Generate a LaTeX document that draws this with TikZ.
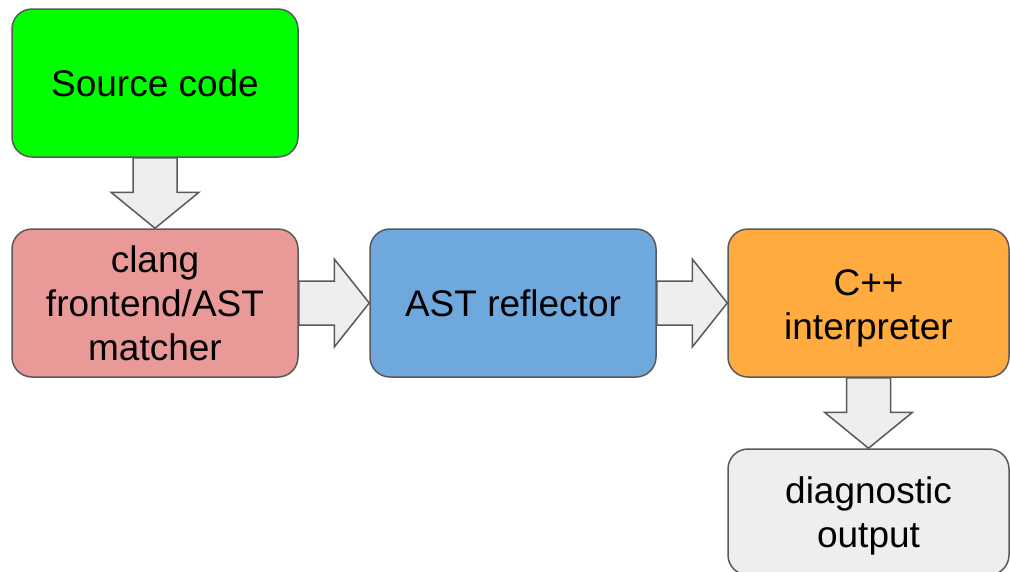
\documentclass[tikz,border=0pt]{standalone}
\usepackage{fontspec}
\setmainfont{Liberation Sans}
\usetikzlibrary{calc,backgrounds}
\definecolor{srcgreen}{HTML}{00FF00}
\definecolor{clangpink}{HTML}{EA9999}
\definecolor{astblue}{HTML}{6FA8DC}
\definecolor{cppor}{HTML}{FFAB40}
\definecolor{lightgrey}{HTML}{EEEEEE}
\definecolor{edgegrey}{HTML}{595959}
\tikzset{
  stagefont/.style={font=\fontsize{37}{44}\selectfont},
  stagebox/.style={draw=edgegrey, line width=1.5pt, rounded corners=20pt,
    minimum width=286pt, minimum height=148pt, align=center, inner sep=0pt,
    stagefont},
  % two-line caption placed a little below the geometric centre of its box
  lowtext/.style={align=center, inner sep=0pt, stagefont, anchor=center, yshift=-5pt},
  blockarrow/.style={draw=edgegrey, fill=lightgrey, line width=1.5pt, line join=miter}
}
% block arrow pointing down, between two stacked nodes
\newcommand\downblock[2]{%
  \draw[blockarrow] ($(#1.south)+(-22,0)$) -- ($(#2.north)+(-22,36)$)
    -- ($(#2.north)+(-44,36)$) -- (#2.north) -- ($(#2.north)+(44,36)$)
    -- ($(#2.north)+(22,36)$) -- ($(#1.south)+(22,0)$) -- cycle;}
% block arrow pointing right, between two nodes side by side
\newcommand\rightblock[2]{%
  \draw[blockarrow] ($(#1.east)+(0,22)$) -- ($(#2.west)+(-35,22)$)
    -- ($(#2.west)+(-35,44)$) -- (#2.west) -- ($(#2.west)+(-35,-44)$)
    -- ($(#2.west)+(-35,-22)$) -- ($(#1.east)+(0,-22)$) -- cycle;}
\begin{document}
\begin{tikzpicture}[x=1pt,y=1pt]
\useasboundingbox (0,0) rectangle (1010,-571);
\node[stagebox, fill=srcgreen] (src) at (155,-83) {Source code};
\node[stagebox, fill=clangpink] (clang) at (155,-303) {clang\\frontend/AST\\matcher};
\node[stagebox, fill=astblue] (ast) at (513,-303) {AST reflector};
\node[stagebox, fill=cppor, minimum width=281pt] (cpp) at (868.5,-303) {};
\node[lowtext] (cpptext) at (cpp.center) {C++\\interpreter};
\node[stagebox, fill=lightgrey, minimum width=281pt, minimum height=126pt] (diag) at (868.5,-512) {};
\node[lowtext, yshift=1pt] (diagtext) at (diag.center) {diagnostic\\output};
\begin{scope}[on background layer]
  \downblock{src}{clang}
  \rightblock{clang}{ast}
  \rightblock{ast}{cpp}
  \downblock{cpp}{diag}
\end{scope}
\end{tikzpicture}
\end{document}
